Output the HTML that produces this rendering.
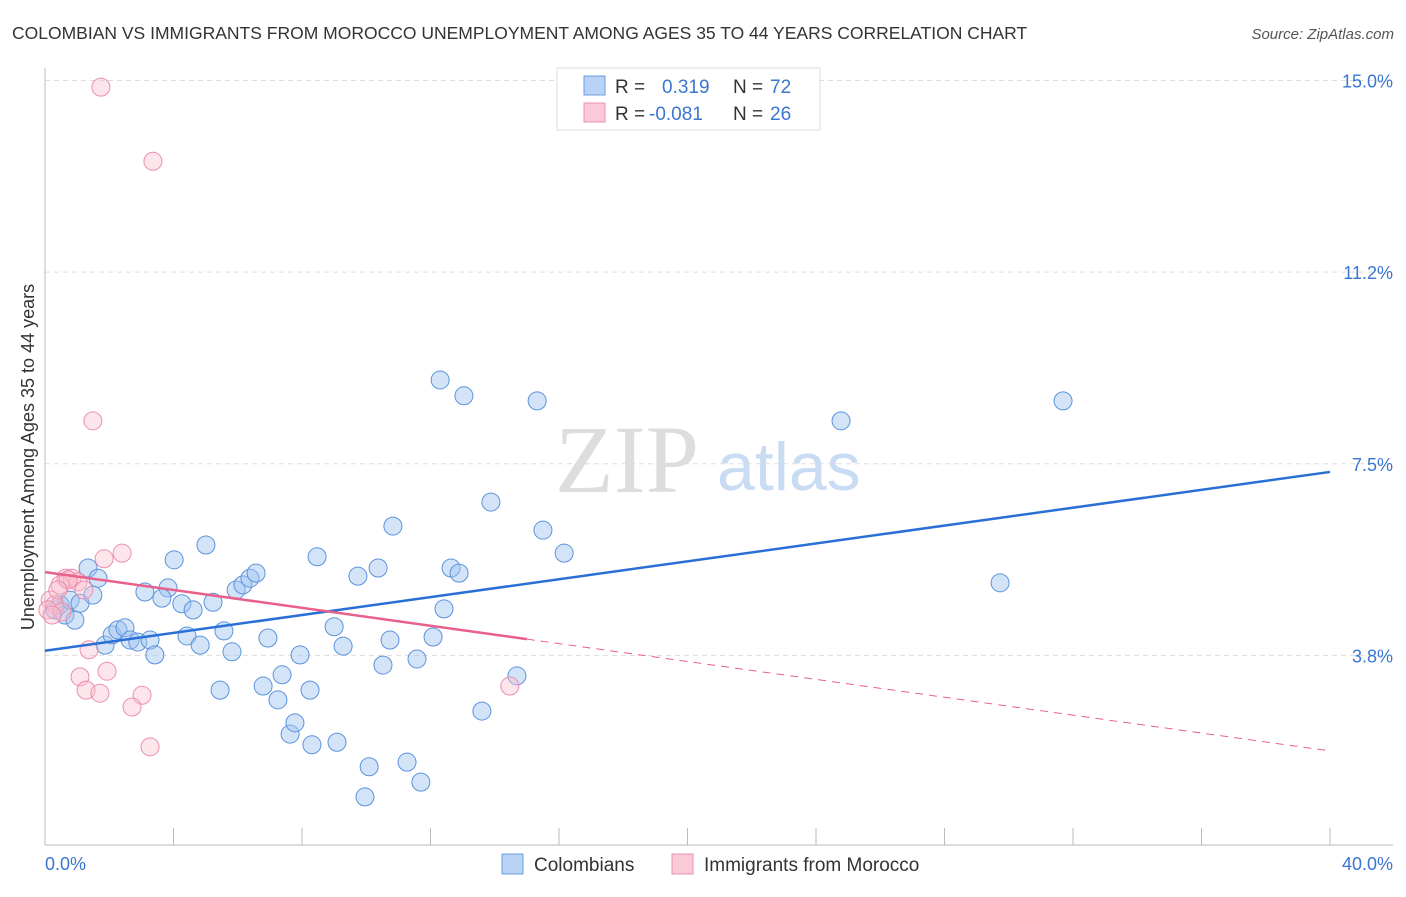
<!DOCTYPE html>
<html><head><meta charset="utf-8"><style>
body{margin:0;background:#fff;font-family:"Liberation Sans",sans-serif}
</style></head><body>
<svg id="c" width="1406" height="892" xmlns="http://www.w3.org/2000/svg" style="font-family:'Liberation Sans',sans-serif">
<text x="12" y="39" font-size="17.5" fill="#333">COLOMBIAN VS IMMIGRANTS FROM MOROCCO UNEMPLOYMENT AMONG AGES 35 TO 44 YEARS CORRELATION CHART</text>
<text x="1394" y="39" font-size="15" fill="#555" font-style="italic" text-anchor="end">Source: ZipAtlas.com</text>
<g>
<text x="555" y="492" font-size="96" font-family="'Liberation Serif',serif" fill="#ddd">ZIP</text>
<text x="717" y="490" font-size="68" fill="#c9dcf3">atlas</text>
</g>
<g id="grid"></g>
<g id="axes"></g>
<g id="marks"></g>
<text transform="translate(34,457) rotate(-90)" font-size="18" fill="#333" text-anchor="middle">Unemployment Among Ages 35 to 44 years</text>
<g>
<rect x="557" y="68" width="263" height="62" fill="#fff" stroke="#ddd"/>
<rect x="584" y="76" width="21" height="19" fill="#b8d3f5" stroke="#6a9ee0"/>
<rect x="584" y="103" width="21" height="19" fill="#fbc9d7" stroke="#ec8fad"/>
<text x="615" y="93" font-size="19" fill="#333">R =</text>
<text x="662" y="93" font-size="19" fill="#3a76d0">0.319</text>
<text x="733" y="93" font-size="19" fill="#333">N =</text>
<text x="770" y="93" font-size="19" fill="#3a76d0">72</text>
<text x="615" y="120" font-size="19" fill="#333">R =</text>
<text x="649" y="120" font-size="19" fill="#3a76d0">-0.081</text>
<text x="733" y="120" font-size="19" fill="#333">N =</text>
<text x="770" y="120" font-size="19" fill="#3a76d0">26</text>
</g>
<g>
<rect x="502" y="854" width="21" height="20" fill="#b8d3f5" stroke="#6a9ee0"/>
<text x="534" y="871" font-size="19" fill="#333">Colombians</text>
<rect x="672" y="854" width="21" height="20" fill="#fbc9d7" stroke="#ec8fad"/>
<text x="704" y="871" font-size="19" fill="#333">Immigrants from Morocco</text>
</g>
</svg>
<script>
const yTicks=[3.75,7.5,11.25,15.0];
const yTickLabels=["3.8%","7.5%","11.2%","15.0%"];
const xTickLabels=["0.0%","40.0%"];
const blueX=[0.31,0.47,0.62,0.78,0.93,1.09,1.34,1.49,1.65,1.87,2.09,2.27,2.49,2.65,2.89,3.11,3.27,3.42,3.83,3.64,4.02,4.26,4.42,4.61,4.83,5.01,5.23,5.45,5.57,5.82,5.95,6.16,6.38,6.57,6.79,6.94,7.25,7.38,7.63,7.78,7.94,8.25,8.31,8.47,9.00,9.09,9.28,9.74,10.09,9.96,10.37,10.52,10.74,10.83,11.27,11.58,11.70,12.08,12.30,12.42,12.64,12.89,13.04,13.60,13.88,14.69,15.32,15.50,16.16,24.78,29.73,31.69];
const blueY=[4.64,4.74,4.54,4.83,4.44,4.77,5.46,4.93,5.26,3.95,4.15,4.25,4.29,4.05,4.01,4.99,4.05,3.76,5.07,4.87,5.62,4.76,4.13,4.64,3.95,5.91,4.79,3.07,4.23,3.82,5.03,5.13,5.26,5.36,3.15,4.09,2.88,3.37,2.21,2.43,3.76,3.07,2.00,5.68,4.31,2.05,3.93,5.30,1.57,0.98,5.46,3.56,4.05,6.28,1.66,3.68,1.27,4.11,9.14,4.66,5.46,5.36,8.83,2.66,6.75,3.35,8.73,6.20,5.75,8.34,5.17,8.73];
const pinkX=[1.74,3.36,1.49,2.40,1.84,0.65,0.84,1.03,0.47,1.21,0.16,0.31,0.09,0.53,1.37,1.09,1.93,1.28,1.71,3.02,2.71,3.27,14.47,0.72,0.40,0.22];
const pinkY=[14.87,13.42,8.34,5.75,5.64,5.26,5.26,5.19,5.13,5.03,4.83,4.74,4.64,4.60,3.86,3.33,3.44,3.07,3.01,2.97,2.74,1.96,3.15,5.23,5.03,4.54];
const blueTrend=[3.84,7.34];
const pinkTrend=[5.38,1.88];
const pinkSolidEnd=15;
const NS="http://www.w3.org/2000/svg";
const xs=v=>45+v/40*1285;
const ys=v=>847-v*51.1;
function mk(tag,attrs,parent){const e=document.createElementNS(NS,tag);for(const k in attrs)e.setAttribute(k,attrs[k]);parent.appendChild(e);return e;}
const grid=document.getElementById('grid'),axes=document.getElementById('axes'),marks=document.getElementById('marks');
yTicks.forEach((t,i)=>{
 const l=mk('line',{x1:45,x2:1393,y1:ys(t),y2:ys(t),stroke:'#ddd','stroke-dasharray':'5,4'},grid);
 
 
 const tx=mk('text',{x:1393,y:ys(t)+7,'font-size':18,fill:'#3a76d0','text-anchor':'end'},axes);
 tx.textContent=yTickLabels[i];
 
 
});
const ax=mk('line',{x1:45,x2:45,y1:68,y2:845,stroke:'#bbb'},axes);


const bx=mk('line',{x1:45,x2:1393,y1:845,y2:845,stroke:'#bbb'},axes);


for(let i=0;i<=10;i++){
 const t=mk('line',{x1:xs(i*4),x2:xs(i*4),y1:828,y2:845,stroke:'#bbb'},axes);
 
 
}
[[0,'start',45],[40,'end',1393]].forEach((d,i)=>{
 const tx=mk('text',{x:d[2],y:870,'font-size':18,fill:'#3a76d0','text-anchor':d[1]},axes);
 tx.textContent=xTickLabels[i];
 
 
});
blueX.forEach((x,i)=>{
 const c=mk('circle',{cx:xs(x),cy:ys(blueY[i]),r:9,fill:'rgba(160,196,240,0.45)',stroke:'#5b93dc','stroke-width':1},marks);
 
 
});
pinkX.forEach((x,i)=>{
 const c=mk('circle',{cx:xs(x),cy:ys(pinkY[i]),r:9,fill:'rgba(250,190,208,0.4)',stroke:'#ec8fad','stroke-width':1},marks);
 
 
});
const bl=mk('line',{x1:xs(0),y1:ys(blueTrend[0]),x2:xs(40),y2:ys(blueTrend[1]),stroke:'#2a6fd6','stroke-width':2.5},marks);


const pAt=x=>pinkTrend[0]+(pinkTrend[1]-pinkTrend[0])*x/40;
const pl=mk('line',{x1:xs(0),y1:ys(pAt(0)),x2:xs(pinkSolidEnd),y2:ys(pAt(pinkSolidEnd)),stroke:'#e8608c','stroke-width':2.5},marks);


const pd=mk('line',{x1:xs(pinkSolidEnd),y1:ys(pAt(pinkSolidEnd)),x2:xs(40),y2:ys(pAt(40)),stroke:'#e8608c','stroke-width':1,'stroke-dasharray':'8,6'},marks);


</script>
</body></html>
